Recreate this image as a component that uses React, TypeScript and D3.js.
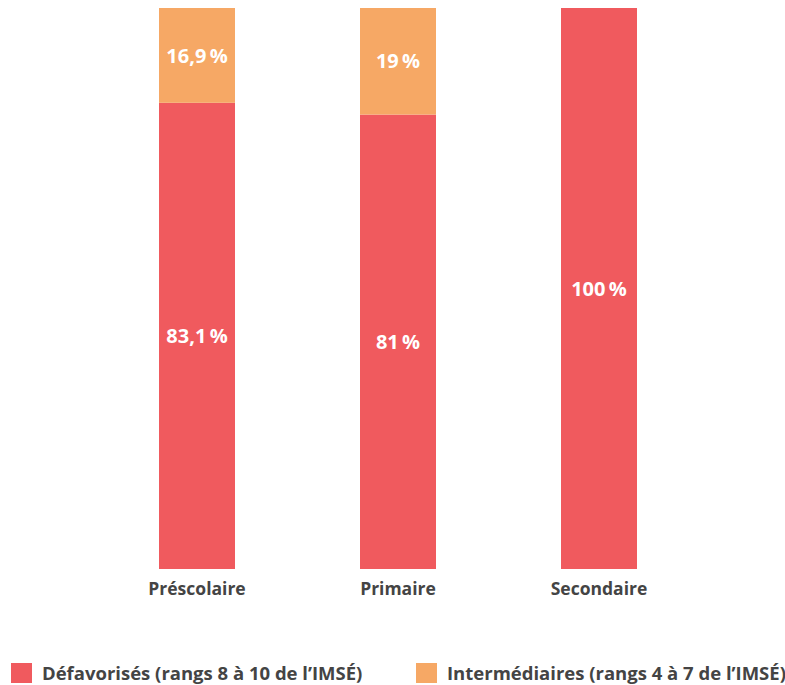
import React from "react";
import * as d3 from "d3";

const categories = ["Préscolaire", "Primaire", "Secondaire"];
const defavorises = [83.1, 81, 100];
const intermediaires = [16.9, 19, 0];
const seriesNames = ["Défavorisés (rangs 8 à 10 de l’IMSÉ)", "Intermédiaires (rangs 4 à 7 de l’IMSÉ)"];
const colors = ["#F05A5E", "#F6A865"];

const fmt = (v: number) => String(v).replace(".", ",") + "\u2009%";

export default function App() {
  const W = 785, H = 685;
  const x = d3.scalePoint<string>().domain(categories).range([197, 599]);
  const y = d3.scaleLinear().domain([0, 100]).range([569, 8]);
  const bw = 76;
  const font = "'Open Sans', sans-serif";
  const rows = categories.map((c, i) => ({ c, d: defavorises[i], m: intermediaires[i] }));
  const stack = d3.stack<any>().keys(["d", "m"])(rows as any);

  return (
    <svg width={W} height={H} style={{ position: "absolute", left: 0, top: 0 }} fontFamily={font}>
      {stack.map((layer, li) => (
        <g key={li}>
          {layer.map((s, i) => {
            const v = s[1] - s[0];
            if (v <= 0) return null;
            const cx = x(categories[i])!;
            const y0 = y(s[1]), y1 = y(s[0]);
            return (
              <g key={i}>
                <rect x={cx - bw / 2} y={y0} width={bw} height={y1 - y0} fill={colors[li]} />
                <text x={cx} y={(y0 + y1) / 2} dy="0.36em" textAnchor="middle" fill="#fff" fontWeight={700} fontSize={20}>
                  {fmt(li === 0 ? defavorises[i] : intermediaires[i])}
                </text>
              </g>
            );
          })}
        </g>
      ))}
      {categories.map((c) => (
        <text key={c} x={x(c)} y={595} textAnchor="middle" fill="#444" fontWeight={700} fontSize={17.5}>{c}</text>
      ))}
      {seriesNames.map((n, i) => {
        const lx = i === 0 ? 11 : 416;
        return (
          <g key={n}>
            <rect x={lx} y={663} width={21} height={20} fill={colors[i]} />
            <text x={lx + 31} y={680} fill="#444" fontWeight={700} fontSize={18.5}>{n}</text>
          </g>
        );
      })}
    </svg>
  );
}
